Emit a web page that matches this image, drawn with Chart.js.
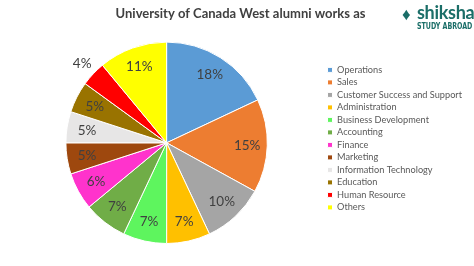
<!DOCTYPE html>
<html>
<head>
<meta charset="utf-8">
<script src="https://cdn.jsdelivr.net/npm/chart.js@4"></script>
<style>
  html, body { margin: 0; padding: 0; background: #fff; }
  #wrap { position: relative; width: 474px; height: 266px; }
  #logo { position: absolute; left: 402px; top: 1px; color: #1b6e68; font-family: Lato, sans-serif; }
  #logo .icon { position: absolute; left: 0; top: 2px; font-size: 17px; font-weight: bold; }
  #logo .name { position: absolute; left: 15px; top: 0; font-size: 18px; font-weight: bold; letter-spacing: -0.3px; }
  #logo .sub { position: absolute; left: 15px; top: 20px; font-family: "DejaVu Sans Condensed", "DejaVu Sans", sans-serif; font-size: 9px; font-weight: bold; white-space: nowrap; transform: scaleX(0.78); transform-origin: left top; }
</style>
</head>
<body>
<div id="wrap">
  <canvas id="pie" width="474" height="266"></canvas>
  <div id="logo"><span class="icon">&#9830;</span><span class="name">shiksha</span><span class="sub">STUDY ABROAD</span></div>
</div>
<script>
  // Alumni job categories and their share (%)
  var categories = [
    'Operations', 'Sales', 'Customer Success and Support', 'Administration',
    'Business Development', 'Accounting', 'Finance', 'Marketing',
    'Information Technology', 'Education', 'Human Resource', 'Others'
  ];
  var shares = [18, 15, 10, 7, 7, 7, 6, 5, 5, 5, 4, 11];
  var sliceColors = [
    '#5b9bd5', '#ed7d31', '#a5a5a5', '#ffc000',
    '#5ef55e', '#70ad47', '#ff33cc', '#9e480e',
    '#e7e6e6', '#997300', '#ff0000', '#ffff00'
  ];

  // draw the percentage text on each slice (small ones go outside)
  var sliceLabels = {
    id: 'sliceLabels',
    afterDatasetsDraw: function(chart) {
      var ctx = chart.ctx;
      var meta = chart.getDatasetMeta(0);
      ctx.save();
      ctx.font = '13.5px Lato, sans-serif';
      ctx.fillStyle = '#404040';
      ctx.textAlign = 'center';
      ctx.textBaseline = 'middle';
      meta.data.forEach(function(arc, i) {
        var p = arc.getProps(['x', 'y', 'startAngle', 'endAngle', 'outerRadius'], true);
        var mid = (p.startAngle + p.endAngle) / 2;
        var r = p.outerRadius * (shares[i] < 5 ? 1.15 : 0.8);
        ctx.fillText(shares[i] + '%', p.x + Math.cos(mid) * r, p.y + Math.sin(mid) * r);
      });
      ctx.restore();
    }
  };

  new Chart(document.getElementById('pie'), {
    type: 'pie',
    data: {
      labels: categories,
      datasets: [{
        data: shares,
        backgroundColor: sliceColors,
        borderColor: '#ffffff',
        borderWidth: 1
      }]
    },
    options: {
      responsive: false,
      animation: false,
      layout: { padding: { left: 9, right: 2, top: 0, bottom: 22 } },
      plugins: {
        title: {
          display: true,
          text: 'University of Canada West alumni works as',
          color: '#404040',
          font: { family: 'Lato, sans-serif', size: 13, weight: 'bold' },
          padding: { top: 6, bottom: 20 }
        },
        legend: {
          position: 'right',
          align: 'start',
          title: { display: true, text: '', font: { size: 10 }, padding: { top: 50, bottom: 0 } },
          labels: {
            color: '#595959',
            font: { family: 'Lato, sans-serif', size: 9.2 },
            boxWidth: 5,
            boxHeight: 5,
            padding: 3.3
          }
        },
        tooltip: { enabled: false }
      }
    },
    plugins: [sliceLabels]
  });
</script>
</body>
</html>
